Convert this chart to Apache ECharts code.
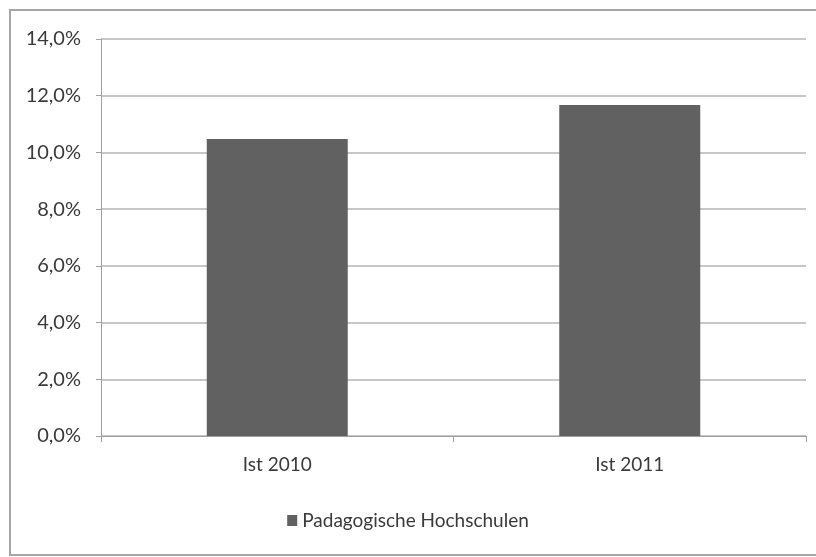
<!DOCTYPE html>
<html>
<head>
<meta charset="utf-8">
<script src="https://cdn.jsdelivr.net/npm/echarts@6/dist/echarts.min.js"></script>
<style>
  html, body { margin: 0; padding: 0; background: #fff; }
  #chart { width: 816px; height: 557px; }
</style>
</head>
<body>
<div id="chart"></div>
<script>
// Werte
let categories = ["Ist 2010", "Ist 2011"];
let seriesName = "Padagogische Hochschulen";
let values = [10.47, 11.67];

let myChart = echarts.init(document.getElementById("chart"));

let option = {
  animation: false,
  backgroundColor: "#fff",
  textStyle: { fontFamily: "Lato" },
  graphic: [
    {
      type: "rect",
      shape: { x: 10, y: 10, width: 820, height: 545 },
      style: { fill: "none", stroke: "#a6a6a6", lineWidth: 2 },
      silent: true,
      z: -1
    }
  ],
  legend: {
    data: [seriesName],
    bottom: 22,
    left: "center",
    icon: "rect",
    itemWidth: 10,
    itemHeight: 11,
    itemGap: 4,
    textStyle: { color: "#3a3a3a", fontSize: 19, fontFamily: "Lato" }
  },
  grid: {
    left: 101,
    right: 10,
    top: 39,
    bottom: 121
  },
  xAxis: {
    type: "category",
    data: categories,
    axisLine: { lineStyle: { color: "#a0a0a0", width: 1 } },
    axisTick: { show: true, length: 6, lineStyle: { color: "#a0a0a0" } },
    axisLabel: { color: "#3a3a3a", fontSize: 19, margin: 19 }
  },
  yAxis: {
    type: "value",
    min: 0,
    max: 14,
    interval: 2,
    axisLine: { show: true, lineStyle: { color: "#a0a0a0" } },
    axisTick: { show: true, length: 5, lineStyle: { color: "#a0a0a0" } },
    splitLine: { lineStyle: { color: "#b5b5b5", width: 1.5 } },
    axisLabel: {
      color: "#3a3a3a",
      fontSize: 20,
      margin: 20,
      formatter: v => v.toFixed(1).replace(".", ",") + "%"
    }
  },
  series: [
    {
      name: seriesName,
      type: "bar",
      data: values,
      barWidth: "40%",
      itemStyle: { color: "#616161" }
    }
  ]
};

myChart.setOption(option);
</script>
</body>
</html>
